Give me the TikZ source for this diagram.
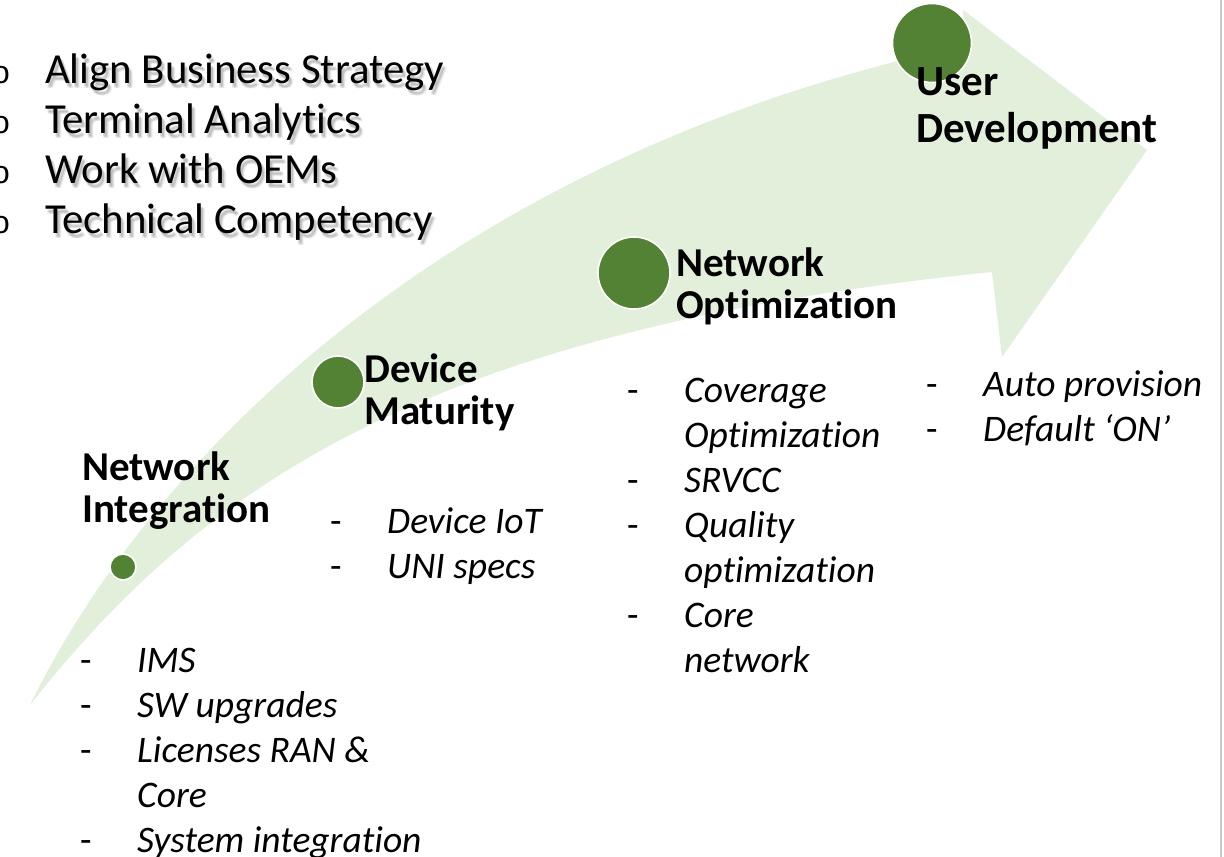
\documentclass[tikz,border=0pt]{standalone}
\usepackage{fontspec}
\setmainfont{Carlito}[Ligatures=NoCommon]
\newfontfamily\bulletfont{Liberation Mono}
\definecolor{leaf}{HTML}{548235}
\definecolor{pale}{HTML}{E2EFDA}
\definecolor{edge}{HTML}{C9C9C9}

% list entry: upright dash, italic text with a hanging indent
\newcommand{\dashitem}[1]{\makebox[57pt][l]{-}\textit{#1}}
\newcommand{\contitem}[1]{\hspace*{57pt}\textit{#1}}

\begin{document}
\begin{tikzpicture}[x=1pt,y=-1pt,
  dot/.style={circle,fill=leaf,draw=white,line width=1.6pt,inner sep=0pt},
  stage/.style={font=\fontsize{41}{42}\selectfont\bfseries,align=left,anchor=base west,inner sep=0pt},
  tasks/.style={font=\fontsize{37.5}{45}\selectfont,align=left,anchor=base west,inner sep=0pt},
  goal/.style={font=\fontsize{42.8}{50}\selectfont,anchor=base west,inner sep=0pt},
  goalshadow/.style={goal,text=black,opacity=0.07},
  bulletmark/.style={font=\bulletfont\fontsize{32}{32}\selectfont,anchor=base,inner sep=0pt}]

\useasboundingbox (0,0) rectangle (1224,857);
\fill[white] (0,0) rectangle (1224,857);

% slide edge on the right
\draw[edge,line width=2.5pt] (1221,0) -- (1221,857);

% curved arrow
\fill[pale] (30,705) .. controls (160,440) and (470,150) .. (967,45)
  -- (963,10) -- (1147,150) -- (1002,357) -- (992,272)
  .. controls (420,330) and (200,490) .. (30,705) -- cycle;

% milestones
\node[dot,minimum size=26pt] (m1) at (123,567) {};
\node[dot,minimum size=52pt] (m2) at (338,382) {};
\node[dot,minimum size=72pt] (m3) at (634,273) {};
\node[dot,minimum size=79pt] (m4) at (932,43) {};

% goals with soft shadow
\foreach \i/\t/\y in {1/Align Business Strategy/83,2/Terminal Analytics/133,3/Work with OEMs/183,4/Technical Competency/233}{
  \node[goalshadow] (gs\i a) at (47,\y+3) {\t};
  \node[goalshadow] (gs\i b) at (48,\y+4) {\t};
  \node[goalshadow] (gs\i c) at (49,\y+5) {\t};
  \node[goalshadow] (gs\i d) at (47,\y+5) {\t};
  \node[goal] (g\i) at (45,\y) {\t};
  \node[bulletmark] (b\i) at (1,\y) {o};
}

% stage titles (anchored at the baseline of the last line)
\node[stage] (s1) at (82,522) {Network\\Integration};
\node[stage] (s2) at (364,424) {Device\\Maturity};
\node[stage] (s3) at (676,318) {Network\\Optimization};
\node[stage,font=\fontsize{43}{47}\selectfont\bfseries] (s4) at (916,142) {User\\Development};

% stage tasks (anchored at the baseline of the last line)
\node[tasks] (t1) at (80,852) {\dashitem{IMS}\\\dashitem{SW upgrades}\\\dashitem{Licenses RAN \&}\\\contitem{Core}\\\dashitem{System integration}};
\node[tasks] (t2) at (330,578) {\dashitem{Device IoT}\\\dashitem{UNI specs}};
\node[tasks] (t3) at (627,672) {\dashitem{Coverage}\\\contitem{Optimization}\\\dashitem{SRVCC}\\\dashitem{Quality}\\\contitem{optimization}\\\dashitem{Core}\\\contitem{network}};
\node[tasks] (t4) at (926,441) {\dashitem{Auto provision}\\\dashitem{Default ‘ON’}};

\end{tikzpicture}
\end{document}
